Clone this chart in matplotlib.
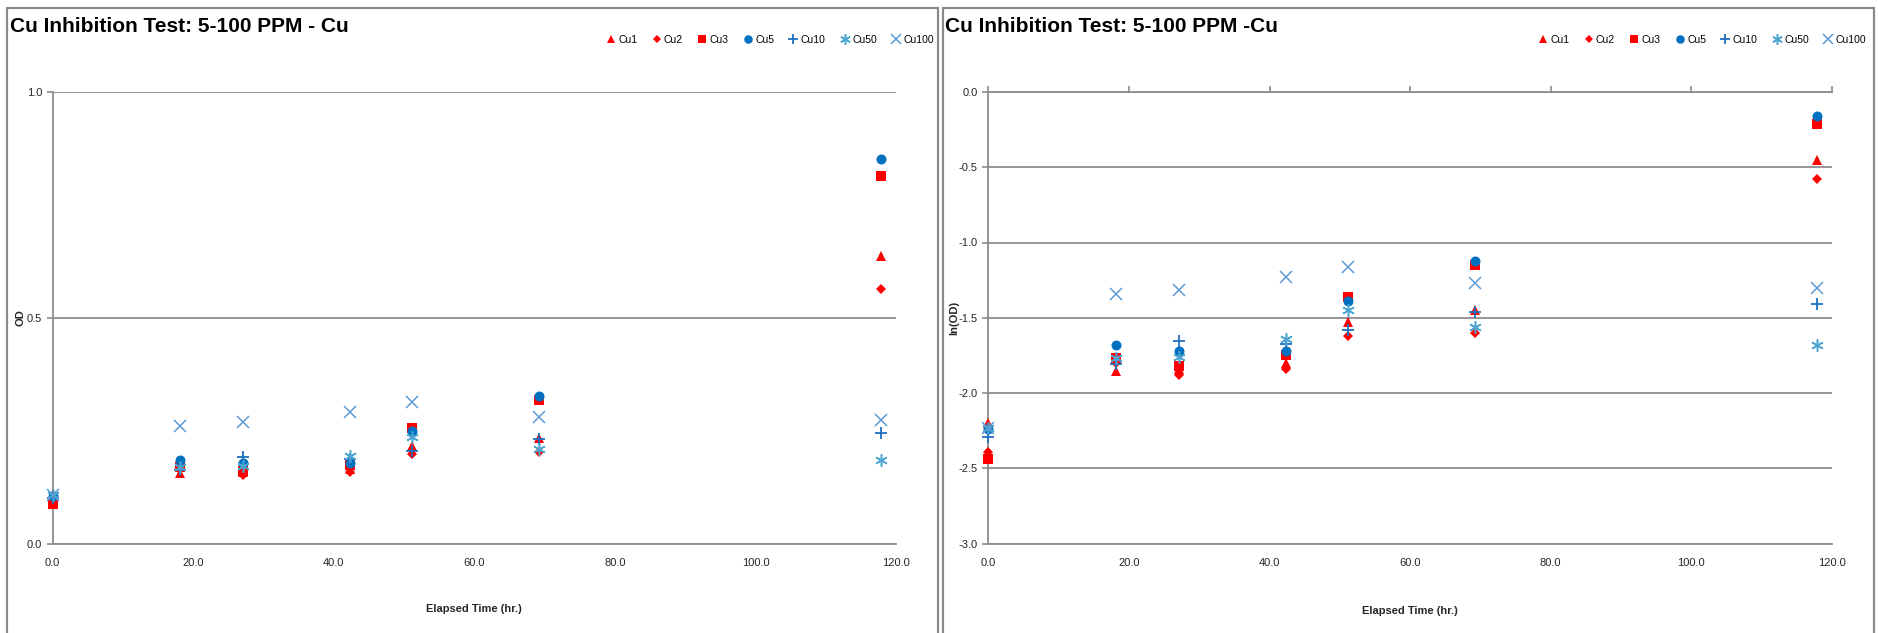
import matplotlib
matplotlib.use("Agg")
from matplotlib import pyplot as plt
from matplotlib.patches import Rectangle
from matplotlib.ticker import FormatStrFormatter

plt.rcParams['font.family'] = ['Liberation Sans', 'DejaVu Sans']

# Elapsed time (hr.) of each reading.
hours = [0.0, 18.2, 27.1, 42.3, 51.2, 69.2, 117.9]

# OD readings, left chart.
od_cu1 = [0.111, 0.157, 0.159, 0.165, 0.217, 0.235, 0.637]
od_cu2 = [0.092, 0.165, 0.153, 0.159, 0.198, 0.202, 0.563]
od_cu3 = [0.087, 0.170, 0.162, 0.175, 0.257, 0.317, 0.813]
od_cu5 = [0.106, 0.186, 0.179, 0.179, 0.249, 0.326, 0.851]
od_cu10 = [0.101, 0.164, 0.191, 0.188, 0.206, 0.232, 0.245]
od_cu50 = [0.108, 0.170, 0.172, 0.194, 0.236, 0.210, 0.186]
od_cu100 = [0.108, 0.260, 0.269, 0.292, 0.313, 0.281, 0.274]

# ln(OD) readings, right chart.
ln_cu1 = [-2.20, -1.85, -1.84, -1.80, -1.53, -1.45, -0.45]
ln_cu2 = [-2.39, -1.80, -1.88, -1.84, -1.62, -1.60, -0.58]
ln_cu3 = [-2.44, -1.77, -1.82, -1.745, -1.36, -1.15, -0.21]
ln_cu5 = [-2.24, -1.68, -1.72, -1.72, -1.39, -1.12, -0.16]
ln_cu10 = [-2.29, -1.805, -1.655, -1.675, -1.58, -1.46, -1.41]
ln_cu50 = [-2.23, -1.77, -1.76, -1.64, -1.445, -1.56, -1.68]
ln_cu100 = [-2.23, -1.345, -1.315, -1.23, -1.16, -1.27, -1.30]

labels = ['Cu1', 'Cu2', 'Cu3', 'Cu5', 'Cu10', 'Cu50', 'Cu100']
od_series = [od_cu1, od_cu2, od_cu3, od_cu5, od_cu10, od_cu50, od_cu100]
ln_series = [ln_cu1, ln_cu2, ln_cu3, ln_cu5, ln_cu10, ln_cu50, ln_cu100]

red = '#FF0000'
styles = [
    dict(marker='^', color=red, ms=7, mew=0),
    dict(marker='D', color=red, ms=4.8, mew=0),
    dict(marker='s', color=red, ms=6.6, mew=0),
    dict(marker='o', color='#0070C0', ms=7.2, mew=0),
    dict(marker='+', color='#1F6FC0', ms=9, mew=1.3),
    dict(marker=(6, 2, 0), color='#4DA6D2', ms=9, mew=1.1),
    dict(marker='x', color='#5B9BD5', ms=8.5, mew=1.1),
]

W, H = 1878, 633
grey = '#8C8C8C'
txt = '#262626'

fig = plt.figure(figsize=(W / 100, H / 100), dpi=100)

# chart frames
fig.add_artist(Rectangle((7 / W, -0.05), 931 / W, 1.05 - 8 / H, transform=fig.transFigure,
                         fill=False, ec='#8A8A8A', lw=1.6))
fig.add_artist(Rectangle((943 / W, -0.05), 931 / W, 1.05 - 8 / H, transform=fig.transFigure,
                         fill=False, ec='#8A8A8A', lw=1.6))

ax1 = fig.add_axes([52.5 / W, (H - 543.7) / H, 843.6 / W, 451.8 / H])
ax2 = fig.add_axes([988.3 / W, (H - 543.7) / H, 843.6 / W, 451.8 / H])

for ys, lab, st in zip(od_series, labels, styles):
    ax1.plot(hours, ys, ls='none', label=lab, clip_on=False, zorder=3, **st)
for ys, lab, st in zip(ln_series, labels, styles):
    ax2.plot(hours, ys, ls='none', label=lab, clip_on=False, zorder=3, **st)

for ax in (ax1, ax2):
    ax.set_xlim(0, 120)
    ax.set_xticks(range(0, 121, 20))
    ax.xaxis.set_major_formatter(FormatStrFormatter('%.1f'))
    ax.yaxis.set_major_formatter(FormatStrFormatter('%.1f'))
    ax.grid(axis='y', color=grey, lw=1.3)
    ax.set_axisbelow(True)
    for s in ax.spines.values():
        s.set_color(grey)
        s.set_linewidth(1.3)
    ax.spines['right'].set_visible(False)
    ax.tick_params(colors=grey, labelcolor=txt, labelsize=8, length=4, width=1.2)
    ax.set_xlabel('Elapsed Time (hr.)', fontsize=8, fontweight='bold', color=txt, labelpad=26)

ax1.set_ylim(0, 1)
ax1.set_yticks([0, 0.5, 1.0])
ax1.spines['top'].set_visible(False)
ax1.tick_params(axis='x', length=0, pad=10)
ax1.set_ylabel('OD', fontsize=8, fontweight='bold', color=txt, labelpad=1)

ax2.set_ylim(-3, 0)
ax2.set_yticks([-3.0, -2.5, -2.0, -1.5, -1.0, -0.5, 0.0])
ax2.tick_params(axis='x', top=True, bottom=False, labeltop=False, labelbottom=True, pad=6)
ax2.set_ylabel('ln(OD)', fontsize=8, fontweight='bold', color=txt, labelpad=0)
ax2.xaxis.labelpad = 28

fig.text(10 / W, 1 - 26 / H, 'Cu Inhibition Test: 5-100 PPM - Cu', fontsize=15,
         fontweight='bold', va='center', ha='left', color='black')
fig.text(945 / W, 1 - 26 / H, 'Cu Inhibition Test: 5-100 PPM -Cu', fontsize=15,
         fontweight='bold', va='center', ha='left', color='black')

leg_kw = dict(loc='center right', ncol=7, frameon=False, fontsize=7.5, markerscale=0.85,
              handlelength=0.7, handletextpad=0.35, columnspacing=1.5,
              borderaxespad=0, borderpad=0, bbox_transform=fig.transFigure)
ax1.legend(bbox_to_anchor=(934 / W, 1 - 40 / H), **leg_kw)
ax2.legend(bbox_to_anchor=(1866 / W, 1 - 40 / H), **leg_kw)

fig.savefig('out.png', dpi=100)
